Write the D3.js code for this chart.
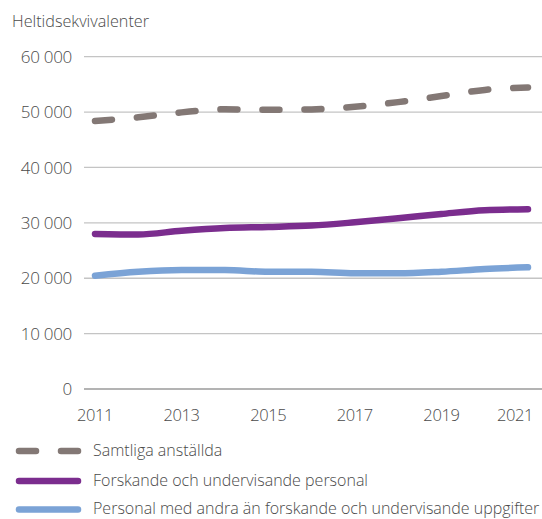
<!DOCTYPE html>
<html>
<head>
<meta charset="utf-8">
<script src="https://cdn.jsdelivr.net/npm/d3@7"></script>
<style>
  html, body { margin: 0; padding: 0; background: #fff; }
  svg { display: block; }
  text { font-family: "Open Sans", Lato, sans-serif; font-weight: 300; fill: #4a4a4a; }
</style>
</head>
<body>
<svg id="chart" width="542" height="519"></svg>
<script>
// Heltidsekvivalenter per personalkategori, 2011–2021
const years = [2011, 2012, 2013, 2014, 2015, 2016, 2017, 2018, 2019, 2020, 2021];
const samtliga = [48400, 49050, 49950, 50500, 50400, 50480, 50950, 51800, 52900, 54000, 54450];
const forskande = [28000, 27900, 28580, 29070, 29250, 29500, 30100, 30820, 31600, 32270, 32450];
const ovriga = [20450, 21170, 21480, 21480, 21170, 21170, 20880, 20880, 21170, 21660, 21970];

const yTicks = [0, 10000, 20000, 30000, 40000, 50000, 60000];
const yTickLabels = ["0", "10 000", "20 000", "30 000", "40 000", "50 000", "60 000"];
const xTicks = [2011, 2013, 2015, 2017, 2019, 2021];

const seriesNames = [
  "Samtliga anställda",
  "Forskande och undervisande personal",
  "Personal med andra än forskande och undervisande uppgifter"
];
const seriesColors = ["#837875", "#7b2d8e", "#7ba3d6"];

const series = [
  { name: seriesNames[0], values: samtliga, color: seriesColors[0], dash: "17,25" },
  { name: seriesNames[1], values: forskande, color: seriesColors[1], dash: null },
  { name: seriesNames[2], values: ovriga, color: seriesColors[2], dash: null }
];

const svg = d3.select("#chart");

const x = d3.scaleLinear().domain([2011, 2021]).range([95, 528]);
const y = d3.scaleLinear().domain([0, 60000]).range([389, 56.7]);

// y-axis title
svg.append("text")
  .attr("x", 12).attr("y", 27)
  .style("font-size", "16.2px")
  .text("Heltidsekvivalenter");

// horizontal gridlines
svg.append("g").selectAll("line")
  .data(yTicks)
  .join("line")
  .attr("x1", 84).attr("x2", 542)
  .attr("y1", d => y(d)).attr("y2", d => y(d))
  .attr("stroke", d => d === 0 ? "#9a9a9a" : "#c4c4c4")
  .attr("stroke-width", 1.3);

// y tick labels
svg.append("g").selectAll("text")
  .data(yTicks)
  .join("text")
  .attr("x", 72)
  .attr("y", d => y(d))
  .attr("dy", "0.36em")
  .attr("text-anchor", "end")
  .style("font-size", "17px")
  .style("letter-spacing", "-0.3px")
  .text((d, i) => yTickLabels[i]);

// x tick labels
svg.append("g").selectAll("text")
  .data(xTicks)
  .join("text")
  .attr("x", d => d === 2021 ? 533 : x(d))
  .attr("y", 421)
  .attr("text-anchor", d => d === 2021 ? "end" : "middle")
  .style("font-size", "16.5px")
  .style("letter-spacing", "-0.4px")
  .text(d => d);

// series lines
const line = d3.line()
  .x((d, i) => x(years[i]))
  .y(d => y(d))
  .curve(d3.curveMonotoneX);

svg.append("g").selectAll("path")
  .data(series)
  .join("path")
  .attr("d", d => line(d.values))
  .attr("fill", "none")
  .attr("stroke", d => d.color)
  .attr("stroke-width", 6.5)
  .attr("stroke-linecap", "round")
  .attr("stroke-linejoin", "round")
  .attr("stroke-dasharray", d => d.dash);

// legend
const legend = svg.append("g");
const rowY = [451, 481, 509.5];
series.forEach((s, i) => {
  const g = legend.append("g").attr("transform", `translate(0,${rowY[i]})`);
  if (s.dash) {
    [[19, 36], [61, 78]].forEach(([a, b]) => {
      g.append("line")
        .attr("x1", a).attr("x2", b)
        .attr("stroke", s.color).attr("stroke-width", 6.5)
        .attr("stroke-linecap", "round");
    });
  } else {
    g.append("line")
      .attr("x1", 19).attr("x2", 78)
      .attr("stroke", s.color).attr("stroke-width", 6.5)
      .attr("stroke-linecap", "round");
  }
  g.append("text")
    .attr("x", 93).attr("y", 0)
    .attr("dy", "0.3em")
    .style("font-size", "16px")
    .text(s.name);
});
</script>
</body>
</html>
